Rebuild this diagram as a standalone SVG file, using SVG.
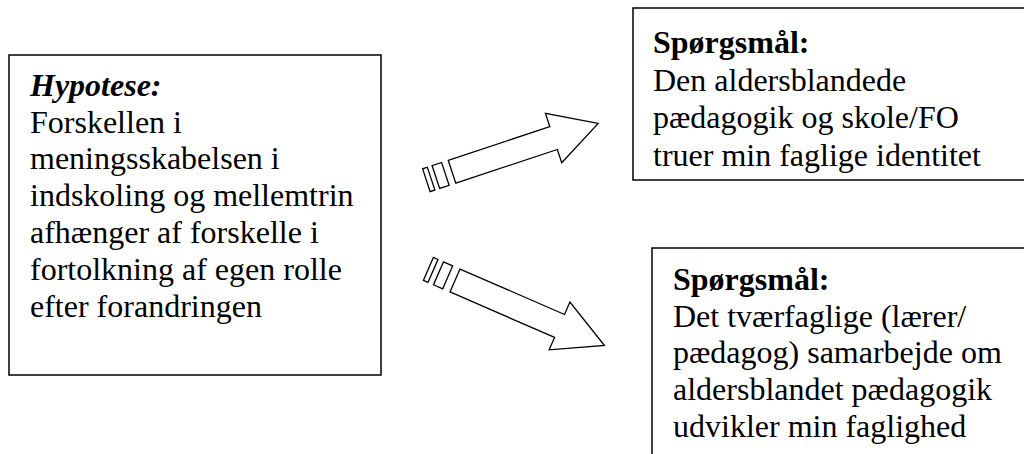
<svg xmlns="http://www.w3.org/2000/svg" width="1024" height="454" viewBox="0 0 1024 454">
  <style>
    .box { fill: #ffffff; stroke: #000000; stroke-width: 1.5; }
    .txt { font-family: "Liberation Serif", "Times New Roman", serif; font-size: 32px; fill: #000000; }
    .head { font-weight: bold; }
    .arrow { fill: #ffffff; stroke: #000000; stroke-width: 1.3; stroke-linejoin: miter; }
  </style>
  <rect width="1024" height="454" fill="#ffffff"/>

  <!-- hypothesis box -->
  <g id="hypotese">
    <rect class="box" x="9" y="55" width="372" height="320"/>
    <text class="txt" x="30" y="96"><tspan class="head" font-style="italic">Hypotese:</tspan></text>
    <text class="txt" x="30" y="133">Forskellen i</text>
    <text class="txt" x="30" y="169">meningsskabelsen i</text>
    <text class="txt" x="30" y="206">indskoling og mellemtrin</text>
    <text class="txt" x="30" y="243">afhænger af forskelle i</text>
    <text class="txt" x="30" y="280">fortolkning af egen rolle</text>
    <text class="txt" x="30" y="317">efter forandringen</text>
  </g>

  <!-- first question box -->
  <g id="spoergsmaal-1">
    <rect class="box" x="633" y="8" width="400" height="172"/>
    <text class="txt head" x="653" y="53">Spørgsmål:</text>
    <text class="txt" x="653" y="91">Den aldersblandede</text>
    <text class="txt" x="653" y="128">pædagogik og skole/FO</text>
    <text class="txt" x="653" y="166">truer min faglige identitet</text>
  </g>

  <!-- second question box -->
  <g id="spoergsmaal-2">
    <rect class="box" x="652" y="248" width="380" height="220"/>
    <text class="txt head" x="673" y="290">Spørgsmål:</text>
    <text class="txt" x="673" y="327">Det tværfaglige (lærer/</text>
    <text class="txt" x="673" y="363">pædagog) samarbejde om</text>
    <text class="txt" x="673" y="400">aldersblandet pædagogik</text>
    <text class="txt" x="673" y="437">udvikler min faglighed</text>
  </g>

  <!-- striped block arrows -->
  <g id="connectors">
    <g transform="translate(452 171.7) rotate(-18.3)">
      <rect class="arrow" x="-27" y="-12" width="5" height="24"/>
      <rect class="arrow" x="-17" y="-12" width="10" height="24"/>
      <polygon class="arrow" points="0,-12 107,-12 107,-26 154,0 107,26 107,12 0,12"/>
    </g>
    <g transform="translate(455 280.5) rotate(23.5)">
      <rect class="arrow" x="-29" y="-12.5" width="5" height="25"/>
      <rect class="arrow" x="-18" y="-12.5" width="10" height="25"/>
      <polygon class="arrow" points="0,-12.5 114,-12.5 114,-26 163,0 114,26 114,12.5 0,12.5"/>
    </g>
  </g>
</svg>
